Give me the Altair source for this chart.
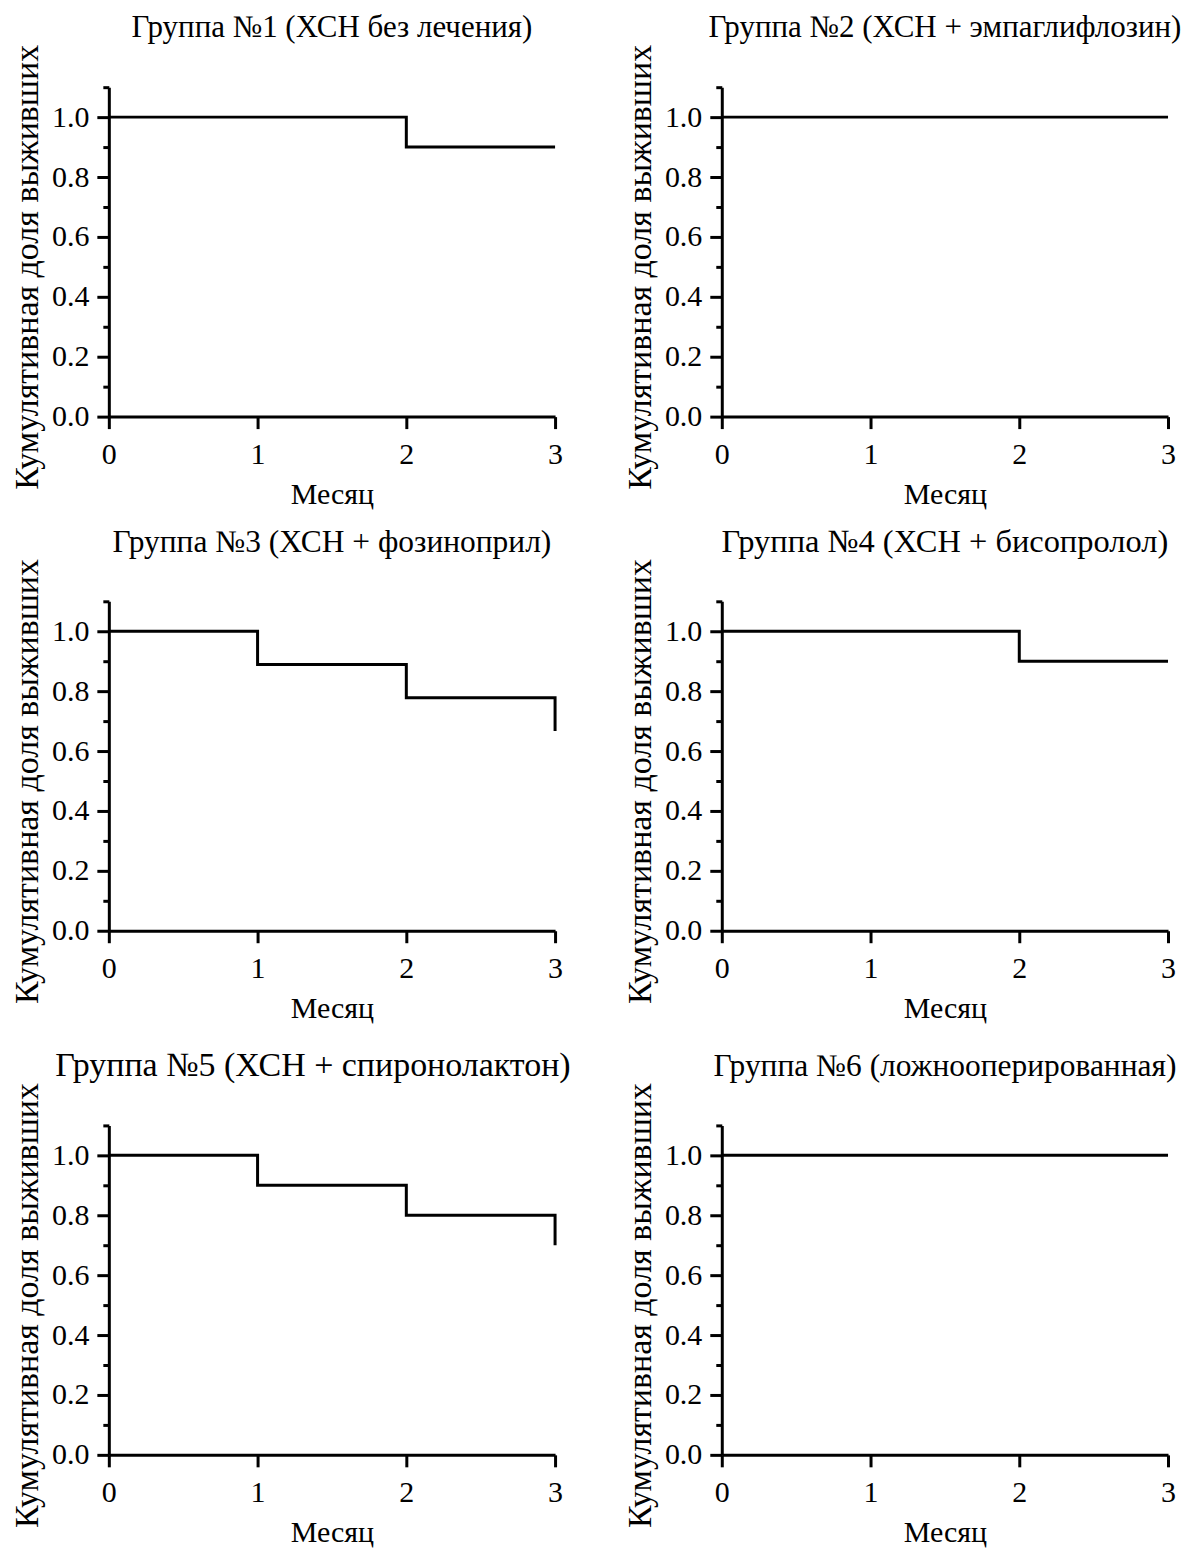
import altair as alt
import pandas as pd

FONT = "Liberation Serif"

titles = [
    "Группа №1 (ХСН без лечения)",
    "Группа №2 (ХСН + эмпаглифлозин)",
    "Группа №3 (ХСН + фозиноприл)",
    "Группа №4 (ХСН + бисопролол)",
    "Группа №5 (ХСН + спиронолактон)",
    "Группа №6 (ложнооперированная)",
]
title_sizes = [31, 31, 31.5, 32.5, 34, 31.5]
title_dx = [0, 0, 0, 0, -19, 0]

months_1 = [0, 2, 3]
surv_1 = [1.0, 0.9, 0.9]
months_2 = [0, 3]
surv_2 = [1.0, 1.0]
months_3 = [0, 1, 2, 3]
surv_3 = [1.0, 0.889, 0.778, 0.667]
months_4 = [0, 2, 3]
surv_4 = [1.0, 0.9, 0.9]
months_5 = [0, 1, 2, 3]
surv_5 = [1.0, 0.9, 0.8, 0.7]
months_6 = [0, 3]
surv_6 = [1.0, 1.0]

series = [
    (months_1, surv_1),
    (months_2, surv_2),
    (months_3, surv_3),
    (months_4, surv_4),
    (months_5, surv_5),
    (months_6, surv_6),
]

x_ticks = [0, 1, 2, 3]
y_ticks = [round(i * 0.1, 1) for i in range(12)]

W, H = 447, 330


def panel(title, months, surv, tsize, tdx):
    df = pd.DataFrame({"Месяц": months, "S": surv})
    return (
        alt.Chart(df)
        .mark_line(interpolate="step-after", color="black", strokeWidth=3, clip=False)
        .encode(
            x=alt.X(
                "Месяц:Q",
                scale=alt.Scale(domain=[0, 3], nice=False, zero=False),
                axis=alt.Axis(
                    values=x_ticks,
                    format="d",
                    title="Месяц",
                    tickSize=12,
                    labelPadding=11,
                    titlePadding=10,
                ),
            ),
            y=alt.Y(
                "S:Q",
                scale=alt.Scale(domain=[0, 1.1], nice=False, zero=True),
                axis=alt.Axis(
                    values=y_ticks,
                    title="Кумулятивная доля выживших",
                    titleFontSize=34,
                    titleY=H / 2 + 15,
                    labelExpr="round(datum.value*10) % 2 == 0 ? format(datum.value, '.1f') : ''",
                    tickSize={
                        "condition": {"test": "round(datum.value*10) % 2 == 1", "value": 6},
                        "value": 12,
                    },
                    labelPadding=8,
                    titlePadding=7,
                ),
            ),
        )
        .properties(
            width=W,
            height=H,
            title=alt.TitleParams(
                title, anchor="middle", frame="group", offset=0, fontSize=tsize, dx=tdx
            ),
        )
    )


charts = [
    panel(t, m, s, ts, td)
    for t, (m, s), ts, td in zip(titles, series, title_sizes, title_dx)
]

row1 = alt.hconcat(charts[0], charts[1], spacing=60)
row2 = alt.hconcat(charts[2], charts[3], spacing=60)
row3 = alt.hconcat(charts[4], charts[5], spacing=52)

chart = (
    alt.vconcat(alt.vconcat(row1, row2, spacing=16), row3, spacing=25)
    .properties(padding={"left": 2, "top": 3, "right": 0, "bottom": 0})
    .configure(background="white")
    .configure_view(stroke=None)
    .configure_axis(
        grid=False,
        domainColor="black",
        domainWidth=3,
        tickColor="black",
        tickWidth=3,
        labelFont=FONT,
        labelFontSize=30,
        labelColor="black",
        labelFlush=False,
        labelOverlap=False,
        titleFont=FONT,
        titleFontSize=30,
        titleFontWeight="normal",
        titleColor="black",
    )
    .configure_title(font=FONT, fontSize=31, fontWeight="normal", color="black")
)

chart.save("out.html", embed_options={"renderer": "svg", "actions": False})
